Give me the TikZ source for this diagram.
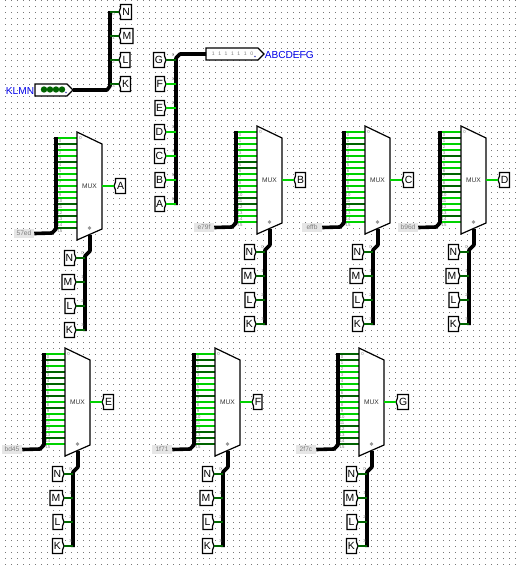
\documentclass[tikz,border=0pt]{standalone}
\usepackage{fontspec}
\setmainfont{Liberation Sans}
\definecolor{w1}{RGB}{0,210,0}
\definecolor{w0}{RGB}{0,100,0}
\definecolor{griddot}{RGB}{120,120,120}
\definecolor{pinblue}{RGB}{0,0,235}
\definecolor{constbg}{RGB}{230,230,230}
\definecolor{tiny}{RGB}{125,125,125}
\tikzset{
  wire/.style={line width=1.5pt,line cap=butt},
  bus/.style={line width=2.7pt,line join=round,line cap=butt,draw=black},
  shapeline/.style={draw=black,fill=white,line width=0.9pt,line join=miter},
  pintext/.style={inner sep=0pt,font=\fontsize{7.8}{9}\selectfont},
  tinytext/.style={inner sep=0pt,text=tiny,font=\fontsize{3.2}{3.2}\selectfont},
  constbox/.style={fill=constbg,draw=none,text=tiny,inner sep=0pt,minimum width=15pt,minimum height=7pt,font=\fontsize{5}{5}\selectfont},
  muxtext/.style={inner sep=0pt,text=black!80,font=\fontsize{5}{5}\selectfont},
  bluetext/.style={inner sep=0pt,text=pinblue,font=\fontsize{7.6}{8}\selectfont}
}
% pin whose notch points right: name, tip x, y, box width, text
\newcommand{\pinR}[5]{%
  \draw[shapeline] (#2,#3) -- ++(-1.5,-4) -- ++(0,-3.5) -- ++(-#4,0) -- ++(0,15) -- ++(#4,0) -- ++(0,-3.5) -- cycle;
  \coordinate (#1) at (#2,#3);
  \node[pintext] (#1-t) at ({#2-1.7-#4/2},#3) {#5};
}
% pin whose notch points left
\newcommand{\pinL}[5]{%
  \draw[shapeline] (#2,#3) -- ++(1.5,-4) -- ++(0,-3.5) -- ++(#4,0) -- ++(0,15) -- ++(-#4,0) -- ++(0,-3.5) -- cycle;
  \coordinate (#1) at (#2,#3);
  \node[pintext] (#1-t) at ({#2+1.7+#4/2},#3) {#5};
}
% id, left x, top y, output letter, const text, bits, output pin width
\newcommand{\muxunit}[7]{%
\begin{scope}[shift={(#2,#3)}]
  \coordinate (#1-bt) at (-21,5);
  \coordinate (#1-bb) at (-21,97);
  \coordinate (#1-bk) at (-25,101);
  \foreach \b [count=\i from 0] in {#6} {
    \coordinate (#1-b\i) at (-21,{6+6*\i});
    \coordinate (#1-in\i) at (0,{6+6*\i});
    \draw[wire,draw=w\b] (#1-b\i) -- (#1-in\i);
    \node[tinytext] at (-17,{8.7+6*\i}) {\i};
  }
  \draw[shapeline] (0,0) -- (25,12) -- (25,97) -- (0,108) -- cycle;
  \node[tinytext] (#1-zero) at (3.5,6) {0};
  \node[muxtext] (#1-mux) at (12.5,54) {MUX};
  \fill[tiny!80] (12.5,96) circle (1.8);
  \node[constbox] (#1-const) at (-53,101.5) {#5};
  \draw[bus] (#1-const.east) -- (#1-bk) -- (#1-bb) -- (#1-bt);
  \coordinate (#1-out) at (25,54);
  \pinL{#1-p}{37}{54}{#7}{#4}
  \draw[wire,draw=w1] (#1-out) -- (#1-p);
  \coordinate (#1-s0) at (13,103);
  \coordinate (#1-s1) at (13,119);
  \coordinate (#1-s2) at (8,124);
  \coordinate (#1-s3) at (8,199);
  \draw[bus] (#1-s0) -- (#1-s1) -- (#1-s2) -- (#1-s3);
  \pinR{#1-n}{-1}{126}{10}{N}
  \pinR{#1-m}{-1}{150}{12.5}{M}
  \pinR{#1-l}{-1}{174}{9.5}{L}
  \pinR{#1-k}{-1}{198}{10}{K}
  \foreach \q/\d [count=\j from 0] in {n/0,m/1,l/2,k/3} {
    \coordinate (#1-\q x) at (8,{126+24*\j});
    \draw[wire,draw=w0] (#1-\q) -- (#1-\q x);
    \node[tinytext] at (5.5,{121+24*\j}) {\d};
  }
\end{scope}}
\begin{document}
\begin{tikzpicture}[x=0.75pt,y=-0.75pt]
\useasboundingbox (0,0) rectangle (516,565);
\fill[white] (0,0) rectangle (516,565);
% grid of dots
\foreach \r in {0,...,94} {
  \draw[griddot,line width=0.75pt,dash pattern=on 0.75pt off 3.75pt] (5,{6*\r+0.5}) -- (516,{6*\r+0.5});
}
% KLMN splitter group
\node[bluetext] (klmnlabel) at (20,91) {KLMN};
\draw[shapeline] (35,84) -- (67,84) -- (73,90) -- (67,96) -- (35,96) -- cycle;
\foreach \cx in {44,50,56,62} \fill[w0] (\cx,89.5) circle (3.2);
\fill[tiny!60!blue] (66,92.5) circle (0.9);
\coordinate (klmnout) at (73,90);
\coordinate (b1a) at (107,90);
\coordinate (b1b) at (110,86);
\coordinate (b1c) at (110,11);
\draw[bus] (klmnout) -- (b1a) -- (b1b) -- (b1c);
\pinL{tn}{119}{12}{11}{N}
\pinL{tm}{119}{36}{12.5}{M}
\pinL{tl}{119}{60}{9.5}{L}
\pinL{tk}{119}{84}{10}{K}
\foreach \q/\yy/\d in {tn/12/0,tm/36/1,tl/60/2,tk/84/3} {
  \coordinate (\q x) at (110,\yy);
  \draw[wire,draw=w0] (\q x) -- (\q);
  \node[tinytext] at (113.5,\yy+2.5) {\d};
}
% ABCDEFG group
\draw[shapeline] (206,48) -- (258,48) -- (264,54) -- (258,60) -- (206,60) -- cycle;
\foreach \v [count=\i from 0] in {1,1,1,1,1,1,0}
  \node[tinytext,font=\fontsize{3.8}{4}\selectfont] at ({213.3+6.4*\i},54) {\v};
\fill[tiny!60!blue] (255,56.5) circle (0.9);
\node[bluetext,anchor=west] (abclabel) at (264.5,55) {ABCDEFG};
\coordinate (outbus) at (206,54);
\coordinate (b2a) at (180,54);
\coordinate (b2b) at (176,58);
\coordinate (b2c) at (176,205);
\draw[bus] (outbus) -- (b2a) -- (b2b) -- (b2c);
\pinR{ga}{166}{60}{11}{G}
\pinR{fa}{166}{84}{9}{F}
\pinR{ea}{166}{108}{9.5}{E}
\pinR{da}{166}{132}{10}{D}
\pinR{ca}{166}{156}{10}{C}
\pinR{ba}{166}{180}{9.5}{B}
\pinR{aa}{166}{204}{9.5}{A}
\foreach \q/\yy/\d/\c in {ga/60/0/w0,fa/84/1/w1,ea/108/2/w1,da/132/3/w1,ca/156/4/w1,ba/180/5/w1,aa/204/6/w1} {
  \coordinate (\q x) at (176,\yy);
  \draw[wire,draw=\c] (\q) -- (\q x);
  \node[tinytext] at (173,\yy-4.5) {\d};
}
% multiplexers
\muxunit{ma}{77}{132}{A}{57ed}{1,0,1,1,0,1,1,1,1,1,1,0,1,0,1,0}{10}
\muxunit{mb}{257}{126}{B}{e79f}{1,1,1,1,1,0,0,1,1,1,1,0,0,1,1,1}{10}
\muxunit{mc}{365}{126}{C}{effb}{1,1,0,1,1,1,1,1,1,1,1,1,0,1,1,1}{10}
\muxunit{md}{461}{126}{D}{b96d}{1,0,1,1,0,1,1,0,1,0,0,1,1,1,0,1}{10}
\muxunit{me}{65}{348}{E}{bd45}{1,0,1,0,0,0,1,0,1,0,1,1,1,1,0,1}{10}
\muxunit{mf}{215}{348}{F}{1f71}{1,0,0,0,1,1,1,0,1,1,1,1,1,0,0,0}{8.5}
\muxunit{mg}{359}{348}{G}{2f7c}{0,0,1,1,1,1,1,0,1,1,1,1,0,1,0,0}{11}
\end{tikzpicture}
\end{document}
